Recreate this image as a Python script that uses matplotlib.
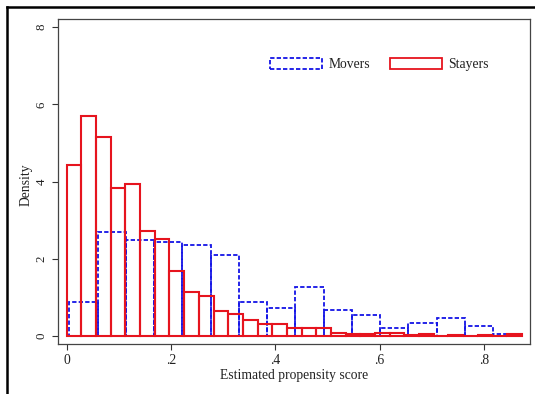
import matplotlib
matplotlib.use("Agg")
import matplotlib.pyplot as plt
from matplotlib.lines import Line2D
from matplotlib.patches import Patch
import numpy as np

# Data
stayers_start = 0.0
stayers_width = 0.02815
stayers_density = [4.44, 5.71, 5.15, 3.84, 3.93, 2.71, 2.51, 1.68, 1.14, 1.04,
                   0.66, 0.58, 0.42, 0.31, 0.30, 0.22, 0.22, 0.22, 0.09, 0.04,
                   0.04, 0.08, 0.08, 0.03, 0.05, 0.01, 0.03, 0.01, 0.03, 0.01, 0.04]
movers_start = 0.005
movers_width = 0.0542
movers_density = [0.89, 2.69, 2.50, 2.43, 2.37, 2.10, 0.89, 0.73, 1.28, 0.67,
                  0.54, 0.21, 0.34, 0.47, 0.26, 0.06]
xticks = [0, 0.2, 0.4, 0.6, 0.8]
xticklabels = ["0", ".2", ".4", ".6", ".8"]
yticks = [0, 2, 4, 6, 8]
yticklabels = ["0", "2", "4", "6", "8"]

plt.rcParams['font.family'] = ['Liberation Serif', 'DejaVu Serif']

fig = plt.figure(figsize=(5.35, 3.94), dpi=100)
ax = fig.add_axes([58/535, 1-344/394, (530-58)/535, (344-19.5)/394])

blue = '#1414e6'
red = '#e6141e'

mx = movers_start + movers_width*np.arange(len(movers_density))
sx = stayers_start + stayers_width*np.arange(len(stayers_density))

ax.bar(mx, movers_density, width=movers_width, align='edge', fill=False,
       edgecolor=blue, linewidth=1.3, linestyle=(0, (2.4, 1.2)), zorder=2)
ax.bar(sx, stayers_density, width=stayers_width, align='edge', fill=False,
       edgecolor=red, linewidth=1.5, zorder=3)

fs = 9.8
ax.set_xlim(-0.0167, 0.8884)
ax.set_ylim(-0.207, 8.2)
ax.set_xticks(xticks)
ax.set_xticklabels(xticklabels)
ax.set_yticks(yticks)
ax.set_yticklabels(yticklabels, rotation=90, va='center', fontsize=9.3)
ax.tick_params(axis='both', length=4, width=0.8, color='#333333',
               labelcolor='#222222')
ax.tick_params(axis='x', pad=3, labelsize=fs)
ax.tick_params(axis='y', pad=3.5)
for s in ax.spines.values():
    s.set_color('#444444')
    s.set_linewidth(0.9)

ax.set_xlabel('Estimated propensity score', fontsize=fs, labelpad=2, color='#222222')
ax.set_ylabel('Density', fontsize=fs, color='#222222', va='center')
ax.yaxis.set_label_coords((26-58)/472, 0.49)

handles = [Patch(facecolor='white', edgecolor=blue, linewidth=1.3, linestyle=(0, (2.4, 1.2))),
           Patch(facecolor='white', edgecolor=red, linewidth=1.3)]
leg = ax.legend(handles, ['Movers', 'Stayers'], ncol=2, frameon=False,
                loc='center left', bbox_to_anchor=((270-58)/472, (344-63.5)/325.5),
                borderpad=0, borderaxespad=0, handlelength=3.8, handleheight=0.95,
                handletextpad=0.5, columnspacing=1.45, fontsize=fs)
for t in leg.get_texts():
    t.set_color('#222222')

# outer frame (partially visible)
fig.add_artist(Line2D([7/535, 7/535], [0, 1-7/394], transform=fig.transFigure,
                      color='black', linewidth=1.8))
fig.add_artist(Line2D([7/535, 1], [1-7/394, 1-7/394], transform=fig.transFigure,
                      color='black', linewidth=1.8))

fig.savefig('out.png', dpi=100)
